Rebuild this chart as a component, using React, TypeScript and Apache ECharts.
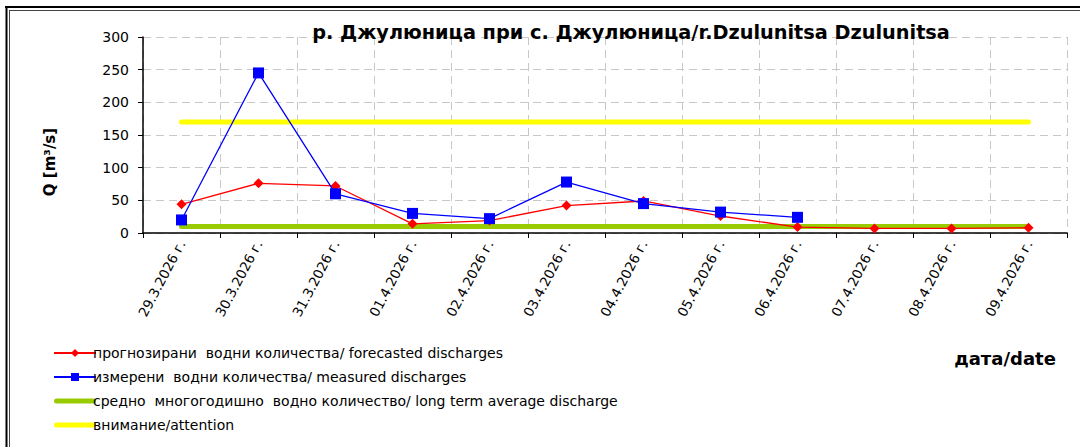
import React, { useEffect, useRef } from "react";
import * as echarts from "echarts";

const categories = [
  "29.3.2026 г.", "30.3.2026 г.", "31.3.2026 г.", "01.4.2026 г.",
  "02.4.2026 г.", "03.4.2026 г.", "04.4.2026 г.", "05.4.2026 г.",
  "06.4.2026 г.", "07.4.2026 г.", "08.4.2026 г.", "09.4.2026 г.",
];
const forecasted = [44, 76, 72, 14, 19, 42, 49, 26, 9, 7, 7, 8];
const measured: (number | null)[] = [20, 245, 60, 30, 22, 78, 45, 32, 24, null, null, null];
const averageValue = 10;
const attentionValue = 170;
const yTicks = { min: 0, max: 300, interval: 50 };

const seriesNames = [
  "прогнозирани  водни количества/ forecasted discharges",
  "измерени  водни количества/ measured discharges",
  "средно  многогодишно  водно количество/ long term average discharge",
  "внимание/attention",
];

const FONT = "'DejaVu Sans', sans-serif";
const BAR_ICON = "path://M2.5,0 L39.5,0 A2.5,2.5 0 0 1 39.5,5 L2.5,5 A2.5,2.5 0 0 1 2.5,0 Z";

export default function App() {
  const ref = useRef<HTMLDivElement>(null);
  useEffect(() => {
    if (!ref.current) return;
    const chart = echarts.init(ref.current, undefined, { renderer: "svg" });
    const avg = categories.map(() => averageValue);
    const att = categories.map(() => attentionValue);
    chart.setOption({
      animation: false,
      backgroundColor: "#ffffff",
      textStyle: { fontFamily: FONT },
      grid: { left: 143, right: 13, top: 37, bottom: 214, containLabel: false },
      xAxis: {
        type: "category",
        data: categories,
        boundaryGap: true,
        axisLine: { lineStyle: { color: "#000", width: 1.5 } },
        axisTick: { show: true, length: 5, inside: false, lineStyle: { color: "#000" } },
        axisLabel: {
          rotate: 62,
          fontSize: 13.5,
          color: "#000",
          fontFamily: FONT,
          margin: 8,
          interval: 0,
        },
        splitLine: { show: true, lineStyle: { color: "#c8c8c8", type: [8, 5], width: 1 } },
      },
      yAxis: {
        type: "value",
        min: yTicks.min,
        max: yTicks.max,
        interval: yTicks.interval,
        axisLine: { show: true, lineStyle: { color: "#000", width: 1.5 } },
        axisTick: { show: true, length: 5, lineStyle: { color: "#000" } },
        axisLabel: { fontSize: 14, color: "#000", fontFamily: FONT, margin: 14 },
        splitLine: { show: true, lineStyle: { color: "#c8c8c8", type: [8, 5], width: 1 } },
      },
      legend: {
        orient: "vertical",
        left: 48,
        top: 341,
        itemWidth: 42,
        itemHeight: 10,
        itemGap: 10,
        symbolKeepAspect: true,
        textStyle: { fontSize: 14, color: "#000", fontFamily: FONT, padding: [0, 0, 0, -8] },
        data: [
          { name: seriesNames[0] },
          { name: seriesNames[1] },
          { name: seriesNames[2], icon: BAR_ICON, itemStyle: { color: "#99cc00" } },
          { name: seriesNames[3], icon: BAR_ICON, itemStyle: { color: "#ffff00" } },
        ],
      },
      series: [
        {
          name: seriesNames[2],
          type: "line",
          data: avg,
          symbol: "none",
          z: 1,
          lineStyle: { color: "#99cc00", width: 5, cap: "round" },
          itemStyle: { color: "#99cc00" },
        },
        {
          name: seriesNames[3],
          type: "line",
          data: att,
          symbol: "none",
          z: 1,
          lineStyle: { color: "#ffff00", width: 5, cap: "round" },
          itemStyle: { color: "#ffff00" },
        },
        {
          name: seriesNames[0],
          type: "line",
          data: forecasted,
          symbol: "diamond",
          symbolSize: 10,
          z: 3,
          lineStyle: { color: "#ff0000", width: 1.3 },
          itemStyle: { color: "#ff0000" },
        },
        {
          name: seriesNames[1],
          type: "line",
          data: measured,
          symbol: "rect",
          symbolSize: 11,
          z: 4,
          connectNulls: false,
          lineStyle: { color: "#0000ff", width: 1.3 },
          itemStyle: { color: "#0000ff" },
        },
      ],
      graphic: [
        { type: "line", shape: { x1: 5, y1: 7, x2: 1080, y2: 7 }, style: { stroke: "#000", lineWidth: 2 } },
        { type: "line", shape: { x1: 9, y1: 10.5, x2: 1080, y2: 10.5 }, style: { stroke: "#444", lineWidth: 1 } },
        { type: "line", shape: { x1: 6.5, y1: 6, x2: 6.5, y2: 447 }, style: { stroke: "#000", lineWidth: 2 } },
        { type: "line", shape: { x1: 9.5, y1: 10, x2: 9.5, y2: 447 }, style: { stroke: "#444", lineWidth: 1 } },
        {
          type: "text",
          x: 631,
          y: 32,
          z: 10,
          style: {
            text: "р. Джулюница при с. Джулюница/r.Dzulunitsa Dzulunitsa",
            font: `bold 19.3px ${FONT}`,
            fill: "#000",
            textAlign: "center",
            textVerticalAlign: "middle",
          },
        },
        {
          type: "text",
          x: 50,
          y: 162,
          rotation: Math.PI / 2,
          style: {
            text: "Q [m³/s]",
            font: `bold 15px ${FONT}`,
            fill: "#000",
            textAlign: "center",
            textVerticalAlign: "middle",
          },
        },
        {
          type: "text",
          x: 1005,
          y: 358,
          style: {
            text: "дата/date",
            font: `bold 18px ${FONT}`,
            fill: "#000",
            textAlign: "center",
            textVerticalAlign: "middle",
          },
        },
      ],
    });
    return () => chart.dispose();
  }, []);
  return (
    <div
      ref={ref}
      style={{ position: "fixed", left: 0, top: 0, width: 1080, height: 447 }}
    />
  );
}
